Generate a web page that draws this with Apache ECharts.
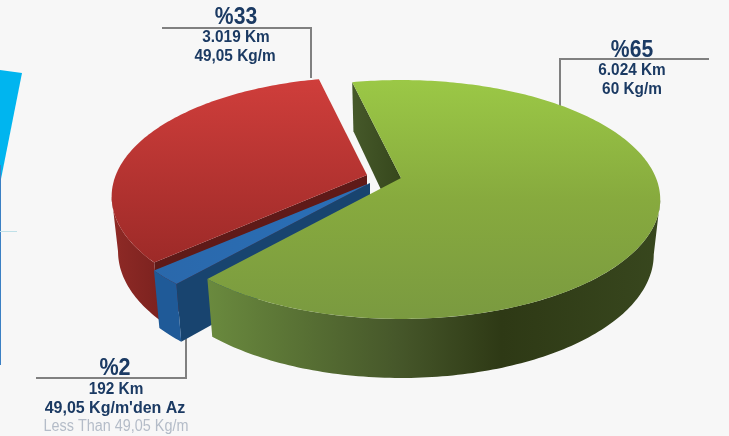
<!DOCTYPE html>
<html>
<head>
<meta charset="utf-8">
<script src="https://cdn.jsdelivr.net/npm/echarts@6/dist/echarts.min.js"></script>
<style>
  html, body { margin: 0; padding: 0; background: #f7f7f7; }
  #chart { width: 729px; height: 436px; }
</style>
</head>
<body>
<div id="chart"></div>
<script>
(function() {
  // slices, counter-clockwise from the top-left cut, in paint order
  var shares = [33, 2, 65];
  var percentLabels = ['%33', '%2', '%65'];
  var kmLabels = ['3.019 Km', '192 Km', '6.024 Km'];
  var weightLabels = ['49,05 Kg/m', "49,05 Kg/m'den Az", '60 Kg/m'];
  var extraLabels = ['', 'Less Than 49,05 Kg/m', ''];

  var font = '"Liberation Sans", sans-serif';
  var navy = '#1b3a63';
  var startAngle = 347;

  // fake 3d: a flattened disc with some perspective
  var radiusX = 255, radiusY = 115.6, persp = 0.18;
  var apexes = [[367, 175], [370, 183], [401, 178]];
  var widthScale = [0.985, 1, 1];
  // where the rim turns away from the viewer, left and right
  var tangent = Math.acos(-persp) * 180 / Math.PI;

  function lin(x, y, stops) {
    return new echarts.graphic.LinearGradient(0, 0, x, y, stops.map(function(s) {
      return { offset: s[0], color: s[1] };
    }));
  }
  var looks = [
    {
      top: lin(0, 1, [[0, '#cf3e3b'], [1, '#9d2a28']]),
      side: lin(1, 0, [[0, '#8f2a26'], [1, '#7c221f']]),
      wall: '#5f1a18'
    },
    {
      top: lin(1, 0, [[0, '#2a68ab'], [1, '#2a70b8']]),
      side: '#1f5a98',
      wall: '#18446f'
    },
    {
      top: lin(0, 1, [[0, '#9bc846'], [0.5, '#87aa3e'], [1, '#7a9a40']]),
      side: lin(1, 0, [[0, '#6a8a3e'], [0.42, '#46572a'], [0.65, '#2e3915'], [1, '#38471e']]),
      wall: lin(1, 0, [[0, '#46592a'], [1, '#36471c']])
    }
  ];

  function rimPoint(idx, deg, lower) {
    var apex = apexes[idx];
    var rx = radiusX * widthScale[idx];
    var a = deg * Math.PI / 180;
    var u = Math.sin(a), v = -Math.cos(a);
    var k = 1 - persp * v;
    if (!lower) return [apex[0] + rx * u / k, apex[1] + radiusY * v / k];
    return [apex[0] + 0.975 * rx * u / k, apex[1] + radiusY * v / k + 54 + 5 * v];
  }

  function arc(idx, from, to, lower) {
    var pts = [];
    var steps = Math.max(2, Math.ceil(Math.abs(from - to)));
    for (var i = 0; i <= steps; i++) {
      pts.push(rimPoint(idx, from + (to - from) * i / steps, lower));
    }
    return pts;
  }

  function renderSlice(params, api) {
    var idx = params.dataIndex;
    var from = startAngle;
    for (var i = 0; i < idx; i++) from -= shares[i] * 3.6;
    var to = from - api.value(0) * 3.6;
    var apex = apexes[idx];
    var look = looks[idx];
    var upper = arc(idx, from, to, false);
    var endLow = rimPoint(idx, to, true);
    var apexLow = [apex[0], apex[1] + 54];
    var wallPts = [apex, upper[upper.length - 1], endLow, apexLow];
    // only the front of the rim shows, the closing edge is the silhouette
    var sideFrom = Math.min(from, 360 - tangent);
    var sideTo = Math.max(to, tangent);
    var sidePts = arc(idx, sideFrom, sideTo, false)
      .concat(arc(idx, sideTo, sideFrom, true));
    return {
      type: 'group',
      children: [
        { type: 'polygon', shape: { points: wallPts }, style: { fill: look.wall } },
        { type: 'polygon', shape: { points: sidePts }, style: { fill: look.side } },
        { type: 'polygon', shape: { points: [apex].concat(upper) }, style: { fill: look.top } }
      ]
    };
  }

  function leader(points) {
    return {
      type: 'polyline',
      shape: { points: points },
      style: { stroke: '#808080', lineWidth: 2, fill: null }
    };
  }

  function label(text, x, y, size, weight, squeeze, color) {
    return {
      type: 'text',
      x: x,
      y: y,
      scaleX: squeeze,
      style: {
        text: text,
        fill: color || navy,
        font: weight + ' ' + size + 'px ' + font,
        textAlign: 'center',
        textVerticalAlign: 'middle'
      }
    };
  }

  var chart = echarts.init(document.getElementById('chart'), null, { renderer: 'canvas' });
  chart.setOption({
    animation: false,
    backgroundColor: '#f7f7f7',
    series: [{
      type: 'custom',
      coordinateSystem: 'none',
      silent: true,
      renderItem: renderSlice,
      data: shares.map(function(s) { return [s]; })
    }],
    graphic: [
      // bits of the neighbouring figure cut off at the left edge
      { type: 'polygon', shape: { points: [[0, 70], [22, 73], [0, 184]] }, style: { fill: '#00b5ef' } },
      { type: 'line', shape: { x1: 0.5, y1: 165, x2: 0.5, y2: 365 }, style: { stroke: '#3b80c4', lineWidth: 1 } },
      { type: 'line', shape: { x1: 0, y1: 231.5, x2: 17, y2: 231.5 }, style: { stroke: '#bfe0e8', lineWidth: 1 } },

      leader([[162, 28], [311, 28], [311, 78]]),
      leader([[709, 59], [560, 59], [560, 107]]),
      leader([[36, 378], [186, 378], [186, 329]]),

      label(percentLabels[0], 236, 17, 24, 'bold', 0.88),
      label(kmLabels[0], 236, 38, 16, 'bold', 0.96),
      label(weightLabels[0], 235, 57, 16, 'bold', 0.96),

      label(percentLabels[2], 632, 50, 24, 'bold', 0.88),
      label(kmLabels[2], 632, 71, 16, 'bold', 0.96),
      label(weightLabels[2], 632, 90, 16, 'bold', 0.96),

      label(percentLabels[1], 115, 368, 24, 'bold', 0.9),
      label(kmLabels[1], 116, 390, 16, 'bold', 0.96),
      label(weightLabels[1], 115, 409, 16, 'bold', 1),
      label(extraLabels[1], 116, 427, 16, 'normal', 0.9, '#b4bcc8')
    ]
  });
})();
</script>
</body>
</html>
